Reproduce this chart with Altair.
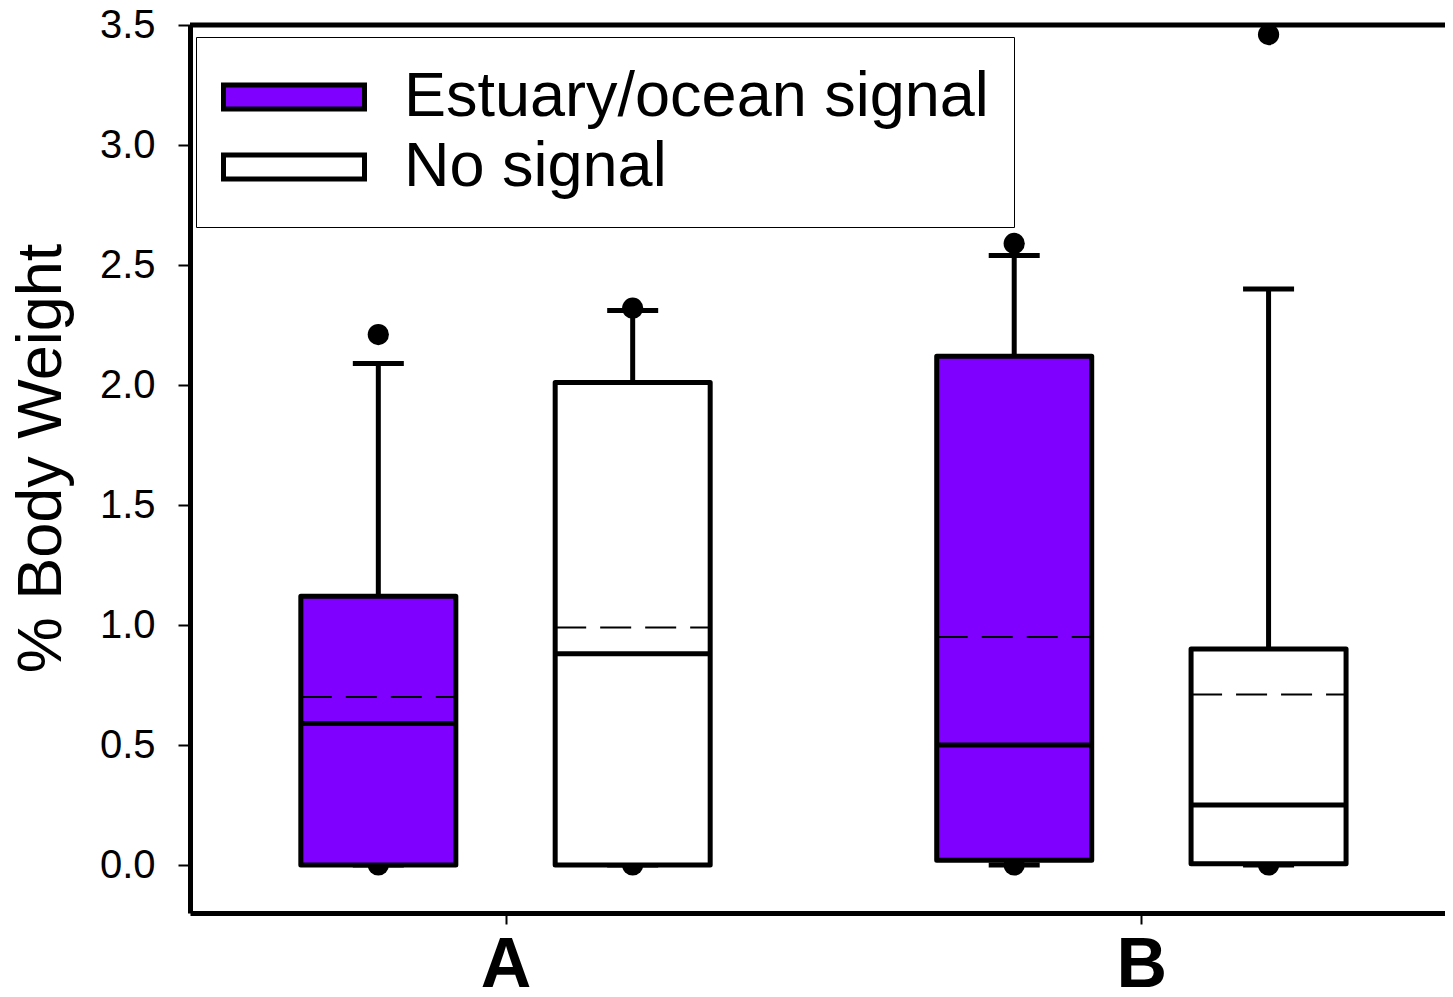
import altair as alt
import pandas as pd

# ---- data ----
groups = ["A", "A", "B", "B"]
signals = ["Estuary/ocean signal", "No signal", "Estuary/ocean signal", "No signal"]
whisker_low = [0.0, 0.0, 0.0, 0.0]
q1 = [0.0, 0.0, 0.02, 0.005]
median = [0.59, 0.88, 0.50, 0.25]
mean = [0.70, 0.99, 0.95, 0.71]
q3 = [1.12, 2.01, 2.12, 0.90]
whisker_high = [2.09, 2.31, 2.54, 2.40]

out_groups = ["A", "A", "A", "A", "B", "B", "B", "B"]
out_signals = ["Estuary/ocean signal", "Estuary/ocean signal", "No signal", "No signal",
               "Estuary/ocean signal", "Estuary/ocean signal", "No signal", "No signal"]
out_values = [2.21, 0.0, 2.32, 0.0, 2.59, 0.0, 3.46, 0.0]

group_order = ["A", "B"]
signal_order = ["Estuary/ocean signal", "No signal"]
fill_colors = ["#7f00ff", "#ffffff"]
y_ticks = [0.0, 0.5, 1.0, 1.5, 2.0, 2.5, 3.0, 3.5]

boxes = pd.DataFrame({
    "group": groups, "signal": signals, "lo": whisker_low, "q1": q1,
    "median": median, "mean": mean, "q3": q3, "hi": whisker_high,
})
outliers = pd.DataFrame({"group": out_groups, "signal": out_signals, "value": out_values})

FONT = "Liberation Sans"
xpos_expr = "indexof(['A','B'], datum.group) + 1 + (datum.signal === 'No signal' ? 0.2 : -0.2)"

x_enc = alt.X(
    "xpos:Q",
    scale=alt.Scale(domain=[0.5117, 2.4696], zero=False, nice=False),
    axis=alt.Axis(
        values=[1, 2], labelExpr="datum.value == 1 ? 'A' : 'B'", title=None, grid=False,
        domainColor="black", domainWidth=5, tickColor="black", tickWidth=2, tickSize=11,
        labelFont=FONT, labelFontSize=70, labelFontWeight="bold", labelColor="black",
        labelPadding=7, labelFlush=False,
    ),
)

def y_enc(field):
    return alt.Y(
        f"{field}:Q",
        scale=alt.Scale(domain=[-0.2, 3.5], zero=False, nice=False),
        axis=alt.Axis(
            values=y_ticks, format=".1f", title="% Body Weight", grid=False,
            domainColor="black", domainWidth=5, tickColor="black", tickWidth=2, tickSize=12,
            labelFont=FONT, labelFontSize=40, labelColor="black", labelPadding=23,
            titleFont=FONT, titleFontSize=63, titleFontWeight="normal", titleColor="black",
            titlePadding=26, titleY=433,
        ),
    )

base = alt.Chart(boxes).transform_calculate(xpos=xpos_expr)

dots = alt.Chart(outliers).transform_calculate(xpos=xpos_expr).mark_point(
    filled=True, color="black", size=450, opacity=1
).encode(x=x_enc, y=y_enc("value"))

low_whisker = base.mark_rule(color="black", strokeWidth=5).encode(
    x=x_enc, y=y_enc("lo"), y2="q1:Q")
low_cap = base.mark_rule(color="black", strokeWidth=5, xOffset=-25.5, x2Offset=25.5).encode(
    x=x_enc, x2="xpos:Q", y=y_enc("lo"))

box = base.mark_bar(size=155, stroke="black", strokeWidth=5, strokeJoin="round").encode(
    x=x_enc, y=y_enc("q1"), y2="q3:Q",
    fill=alt.Fill(
        "signal:N",
        scale=alt.Scale(domain=signal_order, range=fill_colors),
        legend=alt.Legend(
            title=None, orient="none", legendX=6, legendY=12,
            symbolType="M-1,-0.17H1V0.17H-1Z", symbolSize=19881,
            symbolStrokeColor="black", symbolStrokeWidth=5, symbolOpacity=1,
            labelFont=FONT, labelFontSize=63, labelColor="black", labelOffset=37,
            labelLimit=2000, padding=25, clipHeight=70, rowPadding=0,
            strokeColor="black", fillColor="white",
        ),
    ),
)

median_line = base.mark_rule(color="black", strokeWidth=5, xOffset=-77.5, x2Offset=77.5).encode(
    x=x_enc, x2="xpos:Q", y=y_enc("median"))
mean_line = base.mark_rule(color="black", strokeWidth=2, strokeDash=[31, 14],
                           xOffset=-77.5, x2Offset=77.5).encode(
    x=x_enc, x2="xpos:Q", y=y_enc("mean"))

up_whisker = base.mark_rule(color="black", strokeWidth=5).encode(
    x=x_enc, y=y_enc("q3"), y2="hi:Q")
up_cap = base.mark_rule(color="black", strokeWidth=5, xOffset=-25.5, x2Offset=25.5).encode(
    x=x_enc, x2="xpos:Q", y=y_enc("hi"))

top_border = alt.Chart(pd.DataFrame({"top": [3.5]})).mark_rule(
    color="black", strokeWidth=5).encode(y=y_enc("top"))

chart = alt.layer(
    dots, low_whisker, low_cap, box, median_line, mean_line, up_whisker, up_cap, top_border
).properties(
    width=1255, height=888,
    padding={"left": 182, "top": 17, "right": 0, "bottom": 84},
    autosize=alt.AutoSizeParams(type="none"),
).configure_view(stroke=None).configure_legend(strokeWidth=2).configure(background="white")

chart.save("out.html", embed_options={"renderer": "svg", "actions": False})
